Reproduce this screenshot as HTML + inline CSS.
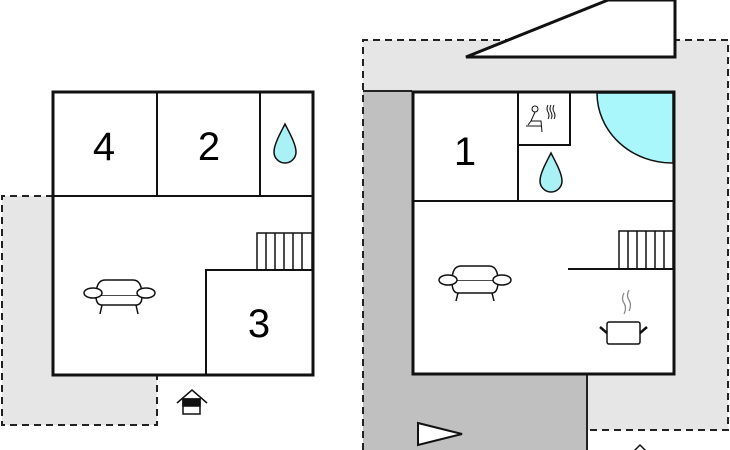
<!DOCTYPE html>
<html><head><meta charset="utf-8"><style>html,body{margin:0;padding:0;background:#fff}svg{display:block}</style></head><body>
<svg width="730" height="450" viewBox="0 0 730 450" xmlns="http://www.w3.org/2000/svg" font-family="Liberation Sans, sans-serif">
<rect x="2" y="196" width="155" height="229" fill="#e6e6e6"/>
<path d="M53 196 H2 V425 H157 V376" fill="none" stroke="#222" stroke-width="2" stroke-dasharray="7,5"/>
<rect x="363" y="40" width="365" height="390" fill="#e6e6e6"/>
<rect x="363" y="91" width="50" height="359" fill="#c0c0c0"/>
<rect x="363" y="374" width="224" height="76" fill="#c0c0c0"/>
<rect x="588" y="431" width="142" height="19" fill="#fff"/>
<path d="M363 450 V40 H728 V430 H588" fill="none" stroke="#222" stroke-width="2" stroke-dasharray="7,5"/>
<line x1="363" y1="91" x2="412" y2="91" stroke="#222" stroke-width="2"/>
<line x1="587" y1="374" x2="587" y2="450" stroke="#222" stroke-width="2"/>
<polygon points="466,57 675,57 675,0 608,0" fill="#fff" stroke="#111" stroke-width="3"/>
<polygon points="418,423 462,434 418,445" fill="#fff" stroke="#111" stroke-width="2"/>
<polyline points="634,451 640,445 646,451" fill="none" stroke="#111" stroke-width="1.5"/>
<rect x="53" y="92" width="260" height="283" fill="#fff" stroke="#111" stroke-width="3"/>
<g stroke="#111" stroke-width="2" fill="none">
<line x1="53" y1="196" x2="313" y2="196"/>
<line x1="157" y1="92" x2="157" y2="196"/>
<line x1="260" y1="92" x2="260" y2="196"/>
<polyline points="206,375 206,270 313,270"/>
<rect x="257" y="233" width="55" height="37" stroke-width="1.5"/>
<path d="M266 233V270M275 233V270M284 233V270M293 233V270M302 233V270" stroke-width="1.5"/>
</g>
<text x="104" y="160" font-size="40" text-anchor="middle">4</text>
<text x="209" y="160" font-size="40" text-anchor="middle">2</text>
<text x="259" y="337" font-size="40" text-anchor="middle">3</text>
<path d="M285 124 C281 132 274 144 274 152 A11 11 0 0 0 296 152 C296 144 289 132 285 124Z" fill="#aaf1f5" stroke="#111" stroke-width="1.5"/>
<g fill="#fff" stroke="#111" stroke-width="1.5">
<path d="M96 296 Q96 280 105 280 H133 Q142 280 142 296 Z"/>
<path d="M96 296 Q96 305 102 305 H136 Q142 305 142 296"/>
<ellipse cx="93" cy="293" rx="9" ry="5"/><ellipse cx="146" cy="293" rx="9" ry="5"/>
<path d="M102 305 L100 314 M136 305 L138 314"/>
</g>
<g stroke="#111" stroke-width="1.5" fill="#fff">
<polyline points="177,403 192,390 207,403" fill="none"/>
<rect x="183" y="399" width="17" height="15"/>
<rect x="183" y="399" width="17" height="7" fill="#111"/>
</g>
<rect x="413" y="92" width="261" height="282" fill="#fff" stroke="#111" stroke-width="3"/>
<path d="M673 93 V163 A75 70 0 0 1 597 93 Z" fill="#aaf7fb" stroke="#111" stroke-width="1.5"/>
<g stroke="#111" stroke-width="2" fill="none">
<line x1="413" y1="201" x2="673" y2="201"/>
<line x1="518" y1="92" x2="518" y2="201"/>
<polyline points="518,145 570,145 570,92"/>
<line x1="568" y1="269" x2="673" y2="269"/>
<rect x="619" y="231" width="54" height="38" stroke-width="1.5"/>
<path d="M628 231V269M637 231V269M646 231V269M655 231V269M664 231V269" stroke-width="1.5"/>
</g>
<text x="465" y="165" font-size="40" text-anchor="middle">1</text>
<path d="M551 153 C547 161 540 173 540 181 A11 11 0 0 0 562 181 C562 173 555 161 551 153Z" fill="#aaf1f5" stroke="#111" stroke-width="1.5"/>
<g stroke="#111" stroke-width="1" fill="none">
<circle cx="535" cy="109" r="3"/>
<path d="M535 112 L531 121 L528 125 M531 121 H541 L542 132 M526 126 H542"/>
<path d="M548 105 q-2 4 0 7 q2 4 0 7 M551 105 q-2 4 0 7 q2 4 0 7 M554 105 q-2 4 0 7 q2 4 0 7"/>
</g>
<g fill="#fff" stroke="#111" stroke-width="1.5">
<path d="M452 281 Q452 266 461 266 H489 Q498 266 498 281 Z"/>
<path d="M452 281 Q452 293 458 293 H492 Q498 293 498 281"/>
<ellipse cx="448" cy="280" rx="9" ry="5"/><ellipse cx="502" cy="280" rx="9" ry="5"/>
<path d="M458 293 L456 301 M492 293 L494 301"/>
</g>
<g stroke="#111" stroke-width="1.5" fill="#fff">
<rect x="607" y="322" width="33" height="22" rx="2"/>
<path d="M600 327 L607 333 M647 327 L640 333" stroke-width="2.5"/>
</g>
<path d="M624 293 q-3 6 0 10 q3 5 0 11 M629 290 q-3 6 0 10 q3 5 0 11" fill="none" stroke="#888" stroke-width="1.3"/>
</svg>
</body></html>
